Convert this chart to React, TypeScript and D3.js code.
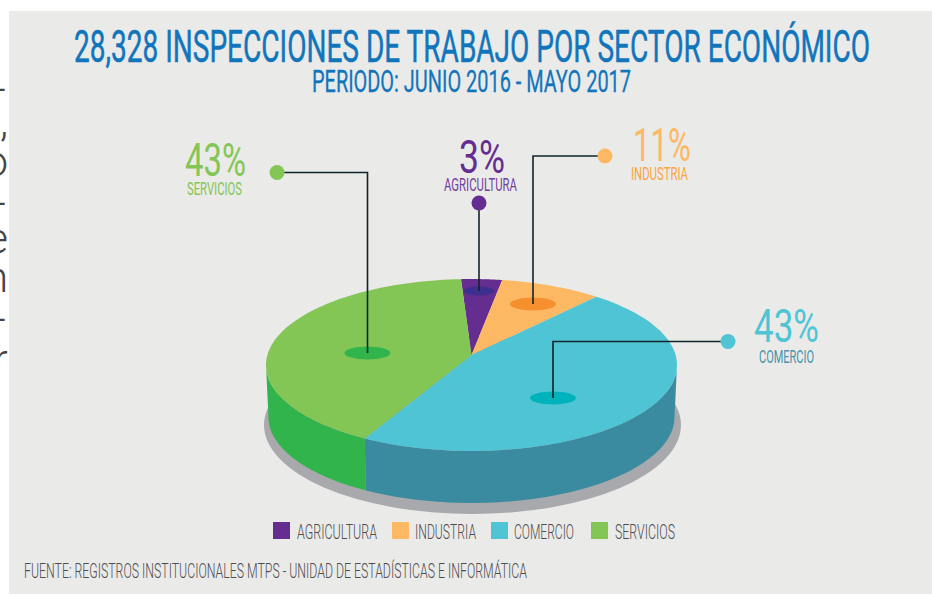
import React from 'react';
import * as d3 from 'd3';

const WIDTH = 932;
const HEIGHT = 595;

const titleText = '28,328 INSPECCIONES DE TRABAJO POR SECTOR ECONÓMICO';
const subtitleText = 'PERIODO: JUNIO 2016 - MAYO 2017';
const sourceText = 'FUENTE: REGISTROS INSTITUCIONALES MTPS - UNIDAD DE ESTADÍSTICAS E INFORMÁTICA';

const categories = ['AGRICULTURA', 'INDUSTRIA', 'COMERCIO', 'SERVICIOS'];
// printed labels of the source
const printedShares = ['3%', '11%', '43%', '43%'];
// shares as the slices are actually drawn in the source (they differ a little from the printed ones)
const drawnShares = [3.6, 8.9, 46.2, 41.3];

const topColors = ['#662d91', '#fdb863', '#4fc4d4', '#84c655'];
const wallColors = ['#662d91', '#fdb863', '#3a8ba0', '#31b44b'];
const spotColors = ['#3d2f8f', '#f68f2e', '#00b2bb', '#31b44b'];
const percentColors = ['#662d91', '#fdb863', '#4fc4d4', '#84c655'];
const nameColors = ['#7340a0', '#f9a541', '#4a93ab', '#84c655'];

// left-over glyphs of the neighbouring page column, cut by the panel
const strayGlyphs = ['–', ',', 'o', '–', 'e', 'n', '–', 'r'];
const strayRows = [105, 136, 176, 219, 253, 292, 335, 374];

const FONT = '"Liberation Sans Narrow", Roboto, sans-serif';

// the disc is seen in perspective: unit circle -> screen
const CX = 471.5;
const APEX_Y = 355;
const K = 0.1163;
const A = 204.1;
const B = 84.8;
const DEPTH = 52;

const project = (u: number, v: number, dy = 0, shrink = 1): [number, number] => {
  const w = 1 - K * v;
  return [CX + (A * shrink * u) / w, APEX_Y + dy + (B * v) / w];
};
// angle measured clockwise from the back of the pie
const onRim = (t: number, dy = 0, shrink = 1) => project(Math.sin(t), -Math.cos(t), dy, shrink);

const START = (-3.3 * Math.PI) / 180;
const pieGen = d3.pie<number>().sort(null).startAngle(START).endAngle(START + 2 * Math.PI);
const slices = pieGen(drawnShares);
const line = d3.line();

const rimPoints = (a: number, b: number, dy = 0, shrink = 1) =>
  d3.range(0, 81).map(i => onRim(a + ((b - a) * i) / 80, dy, shrink));

const wedgePath = (a: number, b: number) =>
  line([[CX, APEX_Y], ...rimPoints(a, b)])! + 'Z';

// the wall runs between the two widest points of the projected rim
const SILHOUETTE = Math.asin(K);
const wallPath = (a: number, b: number) => {
  const lo = Math.max(a, Math.PI / 2 + SILHOUETTE);
  const hi = Math.min(b, (3 * Math.PI) / 2 - SILHOUETTE);
  if (hi <= lo) return null;
  return line([...rimPoints(lo, hi), ...rimPoints(lo, hi, DEPTH, 0.988).reverse()])! + 'Z';
};

type FitProps = { x: number; y: number; w: number; size: number; fill: string; text: string; weight?: number; bold?: number };
const Fit = ({ x, y, w, size, fill, text, weight = 400, bold = 0 }: FitProps) => (
  <text
    x={x}
    y={y}
    textLength={w}
    lengthAdjust="spacingAndGlyphs"
    fontSize={size}
    fontWeight={weight}
    fill={fill}
    stroke={bold ? fill : 'none'}
    strokeWidth={bold}
    fontFamily={FONT}
  >
    {text}
  </text>
);

// spot on the slice, leader elbow and end dot for each category
const callouts = [
  { dot: [479, 203], elbow: null, spot: [479, 291], rx: 15, ry: 4.5 },
  { dot: [605, 156], elbow: [533, 156], spot: [533, 304], rx: 23, ry: 6.5 },
  { dot: [728, 341.5], elbow: [553, 341.5], spot: [553, 398], rx: 23, ry: 6.5 },
  { dot: [277, 172.5], elbow: [367.5, 172.5], spot: [367.5, 353], rx: 23, ry: 6.5 },
];

const percentLabels = [
  { x: 459, y: 173, w: 46, size: 46 },
  { x: 633, y: 161, w: 58, size: 46 },
  { x: 754, y: 342, w: 65, size: 46 },
  { x: 185, y: 176, w: 61, size: 46 },
];
const nameLabels = [
  { x: 444, y: 191, w: 73 },
  { x: 631, y: 180, w: 57 },
  { x: 759, y: 363, w: 55 },
  { x: 187, y: 195, w: 55 },
];
const legendSwatchX = [273, 392, 491, 591];
const legendLabels = [
  { x: 297, w: 80 },
  { x: 415, w: 61 },
  { x: 514, w: 60 },
  { x: 615, w: 60 },
];

export default function App() {
  return (
    <svg
      width={WIDTH}
      height={HEIGHT}
      viewBox={`0 0 ${WIDTH} ${HEIGHT}`}
      style={{ position: 'fixed', left: 0, top: 0, background: '#fff' }}
    >
      <defs>
        <clipPath id="stray">
          <rect x={0} y={0} width={7.5} height={HEIGHT} />
        </clipPath>
      </defs>

      <g clipPath="url(#stray)">
        {strayGlyphs.map((g, i) => (
          <text key={i} x={8} y={strayRows[i]} textAnchor="end" fontSize={42} fontWeight={300} fontFamily="Roboto" fill="#444">
            {g}
          </text>
        ))}
      </g>

      <rect x={9} y={11} width={WIDTH - 9} height={583} fill="#eaeae9" />

      <Fit x={74} y={62} w={796} size={45} bold={0.5} fill="#1175bc" text={titleText} />
      <Fit x={312} y={92} w={319} size={31} bold={0.3} fill="#1175bc" text={subtitleText} />

      {/* shadow under the pie */}
      <ellipse cx={472.5} cy={425} rx={208.5} ry={89} fill="#a7a9ac" />

      {slices.map((s, i) => {
        const d = wallPath(s.startAngle, s.endAngle);
        return d ? <path key={i} d={d} fill={wallColors[i]} /> : null;
      })}
      {slices.map((s, i) => (
        <path key={i} d={wedgePath(s.startAngle, s.endAngle)} fill={topColors[i]} />
      ))}

      {callouts.map((c, i) => (
        <ellipse key={i} cx={c.spot[0]} cy={c.spot[1]} rx={c.rx} ry={c.ry} fill={spotColors[i]} />
      ))}
      {callouts.map((c, i) => {
        const pts: [number, number][] = c.elbow
          ? [c.dot as [number, number], c.elbow as [number, number], c.spot as [number, number]]
          : [c.dot as [number, number], c.spot as [number, number]];
        return <path key={i} d={line(pts)!} fill="none" stroke="#10242b" strokeWidth={1.6} />;
      })}
      {callouts.map((c, i) => (
        <circle key={i} cx={c.dot[0]} cy={c.dot[1]} r={7.5} fill={topColors[i]} />
      ))}

      {categories.map((name, i) => (
        <g key={name}>
          <Fit {...percentLabels[i]} fill={percentColors[i]} text={printedShares[i]} />
          <Fit x={nameLabels[i].x} y={nameLabels[i].y} w={nameLabels[i].w} size={18} fill={nameColors[i]} text={name} />
        </g>
      ))}

      {categories.map((name, i) => (
        <g key={name}>
          <rect x={legendSwatchX[i]} y={522} width={17} height={17} fill={topColors[i]} />
          <Fit x={legendLabels[i].x} y={538.5} w={legendLabels[i].w} size={20.5} weight={300} fill="#4d4d4f" text={name} />
        </g>
      ))}

      <Fit x={24} y={577.5} w={503} size={20.5} weight={300} fill="#4d4d4f" text={sourceText} />
    </svg>
  );
}
